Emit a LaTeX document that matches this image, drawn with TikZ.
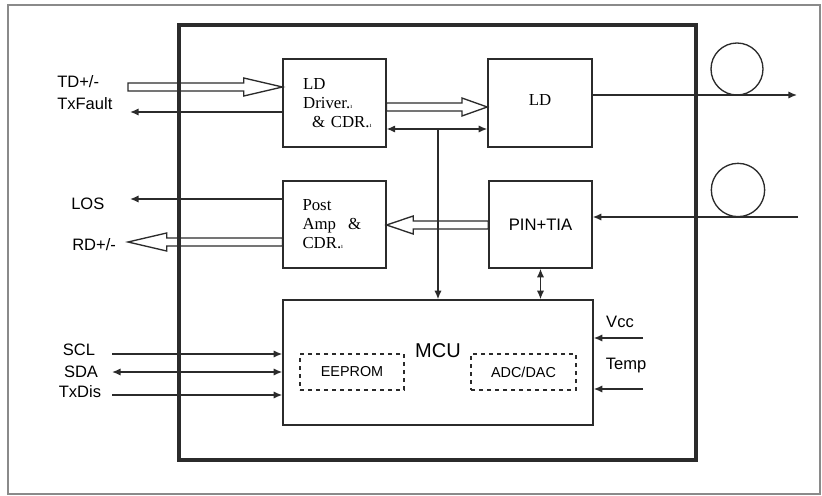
\documentclass[tikz,border=0pt]{standalone}
\usepackage{fontspec}
\setmainfont{Liberation Serif}
\setsansfont{Liberation Sans}
\usetikzlibrary{arrows.meta,calc}
\definecolor{ink}{HTML}{2B2B2B}
\definecolor{frame}{HTML}{8A8A8A}

% hollow (outline) arrow: start, tip, head length
\newcommand{\fatarrow}[3]{%
  \coordinate (fa) at ($(#2)!#3!(#1)$);
  \draw[fat] ($(#1)+(0,4)$) -- ($(fa)+(0,4)$) -- ($(fa)+(0,9)$) -- (#2)
    -- ($(fa)+(0,-9)$) -- ($(fa)+(0,-4)$) -- ($(#1)+(0,-4)$) -- cycle;
}

\tikzset{
  box/.style={draw=ink, line width=1.1pt, inner sep=0pt},
  sub/.style={draw=ink, line width=0.9pt, dashed, inner sep=0pt,
    minimum height=27pt, font=\sffamily\fontsize{10.8}{12}\selectfont},
  lbl/.style={font=\sffamily\fontsize{12.4}{14}\selectfont, inner sep=0pt},
  rm/.style={font=\rmfamily\fontsize{12.6}{14.2}\selectfont},
  sig/.style={draw=ink, line width=1.1pt, -{Latex[length=6.5pt,width=5.5pt]}},
  sigboth/.style={draw=ink, line width=1.1pt,
    {Latex[length=6.5pt,width=5.5pt]}-{Latex[length=6.5pt,width=5.5pt]}},
  fat/.style={draw=ink, line width=1pt, line join=miter}
}

\begin{document}
\begin{tikzpicture}[x=0.75pt,y=-0.75pt]
  \useasboundingbox (0,0) rectangle (822,496);
  \draw[frame, line width=1.5pt] (8,5) rectangle (820,494);
  \draw[ink, line width=2.3pt] (179,25) rectangle (696,460);

  % blocks
  \node[box, rm, text width=47pt, inner xsep=15pt, align=left,
    minimum height=66pt] (ldd) at (334.5,103)
    {LD\\\makebox[0pt][l]{Driver.{\tiny ı}}\\\makebox[0pt][l]{\hspace*{6.75pt}\& CDR.{\tiny ı}}};
  \node[box, rm, minimum width=78pt, minimum height=66pt] (ld) at (540,103)
    {\raisebox{5.25pt}{LD}};
  \node[box, rm, text width=48pt, inner xsep=14.5pt, align=left,
    minimum height=65.25pt] (post) at (334.5,224.5)
    {Post\\\makebox[0pt][l]{Amp\hspace{9pt}\&}\\\makebox[0pt][l]{CDR.{\tiny ı}}};
  \node[box, font=\sffamily\fontsize{12.5}{14}\selectfont,
    minimum width=77.25pt, minimum height=65.25pt] (pin) at (540.5,224.5) {PIN+TIA};
  \node[box, minimum width=232.5pt, minimum height=93.75pt] (mcu) at (438,362.5) {};
  \node[font=\sffamily\fontsize{15}{17}\selectfont, anchor=base, inner sep=0pt]
    (mcutxt) at (438,357) {MCU};
  \node[sub, minimum width=78pt] (eeprom) at (352,372) {EEPROM};
  \node[sub, minimum width=78.75pt] (adc) at (523.5,372) {ADC/DAC};

  % outside labels
  \node[lbl, anchor=base west] (td) at (57,87) {TD+/-};
  \node[lbl, anchor=base west] (txf) at (57,109) {TxFault};
  \node[lbl, anchor=base west] (los) at (71,209) {LOS};
  \node[lbl, anchor=base west] (rd) at (72,250) {RD+/-};
  \node[lbl, anchor=base] (scl) at (79,355) {SCL};
  \node[lbl, anchor=base] (sda) at (81,377) {SDA};
  \node[lbl, anchor=base] (txdis) at (80,397) {TxDis};
  \node[lbl, anchor=base] (vcc) at (620,327) {Vcc};
  \node[lbl, anchor=base] (temp) at (626,369) {Temp};

  % free ends
  \coordinate (tdin) at (128,87);
  \coordinate (txfout) at (130,112);
  \coordinate (losout) at (130,199);
  \coordinate (rdout) at (128,242);
  \coordinate (bus) at (438,129);
  \coordinate (fibout) at (797,95);
  \coordinate (fibin) at (798,217);
  \coordinate (sclin) at (112,354);
  \coordinate (sdain) at (112,372);
  \coordinate (txdisin) at (112,395);
  \coordinate (vccin) at (643,338);
  \coordinate (tempin) at (643,389);
  \coordinate (tdtip) at (ldd.west|-tdin);
  \coordinate (lddout) at (ldd.east|-0,107);
  \coordinate (ldin) at (ld.west|-0,107);
  \coordinate (pinout) at (pin.west|-0,225);
  \coordinate (postin) at (post.east|-0,225);
  \coordinate (rdstart) at (post.west|-rdout);

  % hollow arrows
  \fatarrow{tdin}{tdtip}{29pt}
  \fatarrow{lddout}{ldin}{19pt}
  \fatarrow{pinout}{postin}{20pt}
  \fatarrow{rdstart}{rdout}{29pt}

  % signal lines
  \draw[sig] (ldd.west|-txfout) -- (txfout);
  \draw[sigboth] (ldd.east|-bus) -- (ld.west|-bus);
  \draw[sig] (bus) -- (bus|-mcu.north);
  \draw[sig] (ld.east|-fibout) -- (fibout);
  \draw[sig] (fibin) -- (pin.east|-fibin);
  \draw[sig] (post.west|-losout) -- (losout);
  \draw[sigboth] (pin.south) -- (pin.south|-mcu.north);
  \draw[sig] (sclin) -- (mcu.west|-sclin);
  \draw[sigboth] (sdain) -- (mcu.west|-sdain);
  \draw[sig] (txdisin) -- (mcu.west|-txdisin);
  \draw[sig] (vccin) -- (mcu.east|-vccin);
  \draw[sig] (tempin) -- (mcu.east|-tempin);

  % fibres
  \draw[ink, line width=1pt] (737,69) circle[radius=19.5pt];
  \draw[ink, line width=1pt] (738,190) circle[radius=20pt];
\end{tikzpicture}
\end{document}
